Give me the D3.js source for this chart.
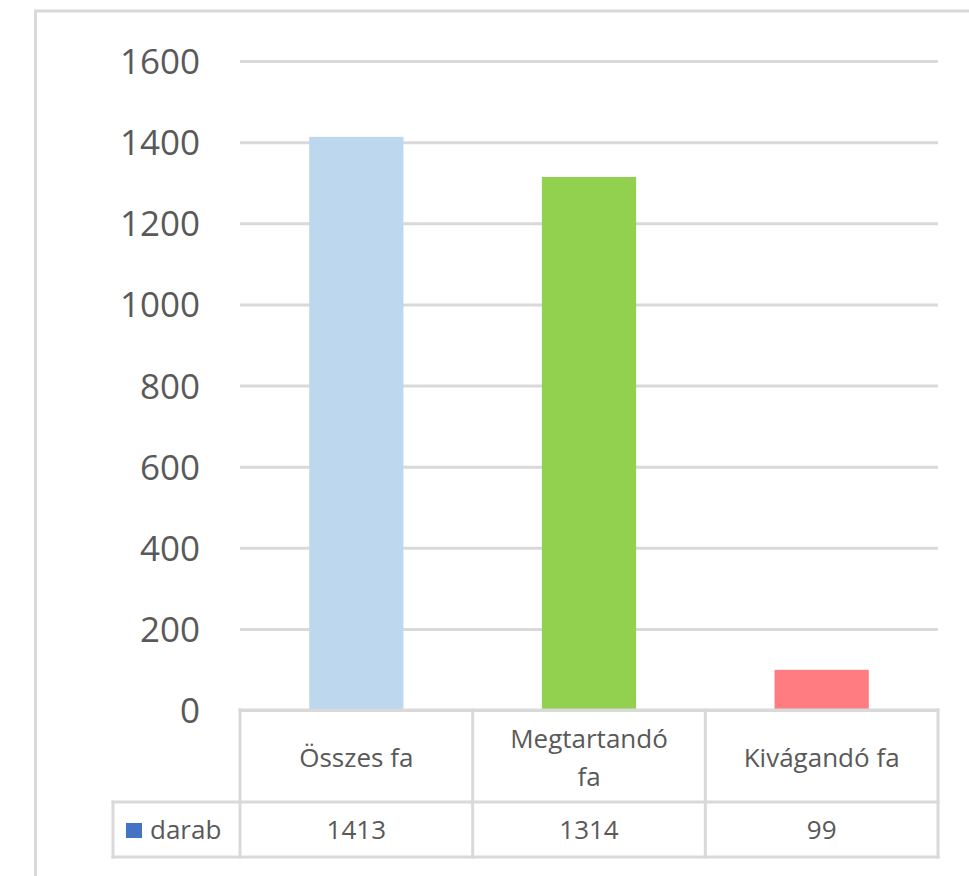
<!DOCTYPE html>
<html>
<head>
<meta charset="utf-8">
<script src="https://cdn.jsdelivr.net/npm/d3@7"></script>
<style>
  html, body { margin: 0; padding: 0; background: #fff; }
  svg { display: block; }
  text { font-family: "Open Sans", "Noto Sans", sans-serif; fill: #595959; }
</style>
</head>
<body>
<svg id="chart" width="969" height="876"></svg>
<script>
// Tree counts
const categories = ["Összes fa", "Megtartandó fa", "Kivágandó fa"];
const categoryLines = [["Összes fa"], ["Megtartandó", "fa"], ["Kivágandó fa"]];
const values = [1413, 1314, 99];
const seriesName = "darab";
const barColors = ["#BDD7EE", "#92D050", "#FF7C80"];
const legendColor = "#4472C4";
const yTicks = [0, 200, 400, 600, 800, 1000, 1200, 1400, 1600];

const svg = d3.select("#chart");
const gridColor = "#d9d9d9";

const plot = { left: 240, right: 938, top: 61, bottom: 710 };

// Outer chart frame (runs past the right and bottom edges)
svg.append("rect")
  .attr("x", 35.5).attr("y", 11)
  .attr("width", 1000).attr("height", 1000)
  .attr("fill", "none")
  .attr("stroke", gridColor)
  .attr("stroke-width", 3);

const x = d3.scaleBand()
  .domain(categories)
  .range([plot.left, plot.right])
  .paddingInner(0.595)
  .paddingOuter(0.2975);

const y = d3.scaleLinear()
  .domain([0, 1600])
  .range([plot.bottom, plot.top]);

// Gridlines + tick labels
const yAxis = d3.axisLeft(y)
  .tickValues(yTicks)
  .tickSizeInner(-(plot.right - plot.left))
  .tickSizeOuter(0)
  .tickPadding(40)
  .tickFormat(d3.format("d"));

const gy = svg.append("g")
  .attr("transform", `translate(${plot.left},0)`)
  .call(yAxis);
gy.select(".domain").remove();
gy.selectAll(".tick line")
  .attr("stroke", gridColor)
  .attr("stroke-width", 3);
gy.selectAll(".tick text")
  .attr("fill", "#595959")
  .style("font-size", "35px")
  .attr("dy", "0.36em");

// Bars
svg.append("g").selectAll("rect")
  .data(values)
  .join("rect")
  .attr("x", (d, i) => x(categories[i]))
  .attr("y", d => y(d))
  .attr("width", x.bandwidth())
  .attr("height", d => y(0) - y(d))
  .attr("fill", (d, i) => barColors[i]);

// Data table below the plot
const step = x.step();
const colLeft = i => plot.left + i * step;
const table = { top: 710, mid: 802, bottom: 857, labelLeft: 113 };
const tg = svg.append("g");

const line = (x1, y1, x2, y2) => tg.append("line")
  .attr("x1", x1).attr("y1", y1).attr("x2", x2).attr("y2", y2)
  .attr("stroke", gridColor).attr("stroke-width", 3)
  .attr("stroke-linecap", "square");

line(plot.left, table.top, plot.right, table.top);
line(table.labelLeft, table.mid, plot.right, table.mid);
line(table.labelLeft, table.bottom, plot.right, table.bottom);
line(table.labelLeft, table.mid, table.labelLeft, table.bottom);
for (let i = 0; i <= categories.length; i++) {
  line(colLeft(i), table.top, colLeft(i), table.bottom);
}

// Category headers
categoryLines.forEach((lines, i) => {
  const cx = colLeft(i) + step / 2;
  const lh = 38;
  const baseY = 767 - (lines.length - 1) * lh / 2;
  lines.forEach((t, j) => {
    tg.append("text")
      .attr("x", cx).attr("y", baseY + j * lh)
      .attr("text-anchor", "middle")
      .style("font-size", "26px")
      .text(t);
  });
});

// Values row
values.forEach((v, i) => {
  tg.append("text")
    .attr("x", colLeft(i) + step / 2).attr("y", 839)
    .attr("text-anchor", "middle")
    .style("font-size", "26px")
    .text(d3.format("d")(v));
});

// Series key
tg.append("rect")
  .attr("x", 126).attr("y", 823)
  .attr("width", 16).attr("height", 15)
  .attr("fill", legendColor);
tg.append("text")
  .attr("x", 150).attr("y", 839)
  .style("font-size", "26px")
  .text(seriesName);
</script>
</body>
</html>
